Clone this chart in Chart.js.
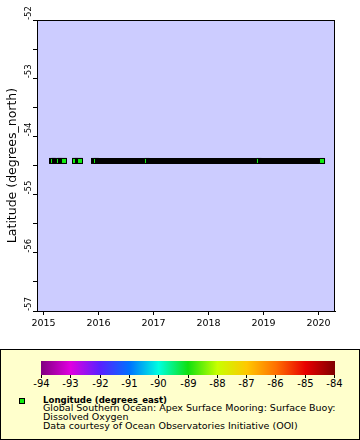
<!DOCTYPE html>
<html>
<head>
<meta charset="utf-8">
<script src="https://cdn.jsdelivr.net/npm/chart.js@4.4.0/dist/chart.umd.min.js"></script>
<style>
  body { margin: 0; background: #fff; font-family: 'DejaVu Sans', sans-serif; color: #000; }
  #wrap { position: relative; width: 360px; height: 440px; overflow: hidden; }
  #plot { position: absolute; left: 0; top: 0; }
  #legend { position: absolute; left: 0; top: 349px; width: 358px; height: 89px; border: 1px solid #000; background: #ffffcc; }
  #colorbar { position: absolute; left: 40px; top: 11px; width: 294px; height: 14px; }
  .cb-tick { position: absolute; top: 25px; width: 1px; height: 3px; background: #000; }
  .cb-label { position: absolute; top: 29px; width: 30px; text-align: center; font-size: 10px; line-height: 10px; }
  #marker { position: absolute; left: 18px; top: 48px; width: 4px; height: 4px; border: 1px solid #000; }
  .txt { position: absolute; left: 42px; white-space: nowrap; font-size: 9.5px; line-height: 10px; }
  .txt.bold { font-weight: bold; font-size: 8.6px; }
</style>
</head>
<body>
<div id="wrap">
  <canvas id="plot" width="360" height="340"></canvas>
  <div id="legend">
    <div id="colorbar"></div>
    <div id="marker"></div>
  </div>
</div>
<script>
// stretches of continuous sampling (decimal years): first and last sample of each
const runStart = [2015.155, 2015.209, 2015.318, 2015.573, 2015.627, 2015.918, 2015.991, 2016.918, 2018.955];
const runEnd   = [2015.173, 2015.282, 2015.373, 2015.573, 2015.664, 2015.955, 2016.882, 2018.918, 2020.064];
const latitude = -54.422;   // degrees_north, mooring position
const longitude = -89.28;   // degrees_east, sets the marker colour

const lonTicks = [-94, -93, -92, -91, -90, -89, -88, -87, -86, -85, -84];
const paletteColors = ['#800080', '#e000e0', '#5a20ff', '#0070ff', '#00ffe0', '#10e010',
                       '#c8ff00', '#ffc800', '#ff7000', '#e80000', '#800000'];
const markerColor = '#10ee10';

const legendLines = [
    'Global Southern Ocean: Apex Surface Mooring: Surface Buoy:',
    'Dissolved Oxygen',
    'Data courtesy of Ocean Observatories Initiative (OOI)'
];

Chart.defaults.font.family = "'DejaVu Sans', sans-serif";
Chart.defaults.color = '#000';

const datasets = runStart.map((start, k) => ({
    data: [{x: start, y: latitude}, {x: runEnd[k], y: latitude}],
    showLine: true,
    borderColor: '#000',
    borderWidth: 6,
    borderCapStyle: 'square',
    tension: 0,
    pointStyle: 'rect',
    pointRadius: ctx => ctx.dataIndex === ctx.dataset.data.length - 1 ? 3.54 : 0,
    pointHoverRadius: 0,
    pointBackgroundColor: markerColor,
    pointBorderColor: '#000',
    pointBorderWidth: 1,
    order: -k   // later stretches drawn on top
}));

const framePlugin = {
    id: 'frame',
    beforeDraw(chart) {
        const {ctx, chartArea: a} = chart;
        ctx.save();
        ctx.fillStyle = '#ccccff';
        ctx.fillRect(a.left, a.top, a.right - a.left, a.bottom - a.top);
        ctx.restore();
    },
    afterDraw(chart) {
        const {ctx, chartArea: a} = chart;
        ctx.save();
        ctx.strokeStyle = '#000';
        ctx.lineWidth = 1;
        ctx.beginPath();
        ctx.moveTo(a.left, a.top + 0.5);
        ctx.lineTo(a.right, a.top + 0.5);
        ctx.moveTo(a.right - 0.5, a.top);
        ctx.lineTo(a.right - 0.5, a.bottom + 1);
        ctx.stroke();
        ctx.restore();
    }
};

new Chart(document.getElementById('plot'), {
    type: 'scatter',
    data: { datasets: datasets },
    plugins: [framePlugin],
    options: {
        responsive: false,
        animation: false,
        events: [],
        layout: { padding: { top: 20, bottom: 9, left: 0, right: 25 } },
        plugins: { legend: { display: false }, tooltip: { enabled: false } },
        scales: {
            x: {
                type: 'linear', position: 'bottom', min: 2014.882, max: 2020.3,
                afterFit: s => { s.height = 20; },
                ticks: {
                    stepSize: 1, includeBounds: false, autoSkip: false, maxRotation: 0,
                    padding: 3, font: { size: 9.5 }, color: '#000',
                    callback: v => String(v)
                },
                grid: { drawOnChartArea: false, tickLength: 4, color: '#000' },
                border: { color: '#000', width: 1 }
            },
            y: {
                type: 'linear', axis: 'y', position: 'left', weight: 0, min: -57, max: -52,
                afterFit: s => { s.width = 8.5; },
                ticks: {
                    stepSize: 0.5, autoSkip: false, minRotation: 90, maxRotation: 90,
                    mirror: true, padding: -8.5, font: { size: 8.5 }, color: '#000',
                    callback: v => Number.isInteger(v) ? String(v) : ''
                },
                grid: { drawOnChartArea: false, tickLength: 4, color: '#000' },
                border: { color: '#000', width: 1 }
            },
            yTitle: {
                type: 'linear', axis: 'y', position: 'left', weight: 1,
                afterFit: s => { s.width = 28.5; },
                ticks: { display: false },
                grid: { display: false },
                border: { display: false },
                title: {
                    display: true, text: 'Latitude (degrees_north)', color: '#000',
                    font: { size: 12.5 }, padding: { top: 5, bottom: 0 }
                }
            }
        }
    }
});

// legend box: colour bar, marker key and dataset description
const legend = document.getElementById('legend');
const bar = document.getElementById('colorbar');
bar.style.background = 'linear-gradient(to right, ' + paletteColors.join(', ') + ')';
const barLeft = 40, barWidth = 294;
lonTicks.forEach((t, i) => {
    const x = Math.round(barLeft + i * (barWidth - 1) / (lonTicks.length - 1));
    const tick = document.createElement('div');
    tick.className = 'cb-tick';
    tick.style.left = x + 'px';
    legend.appendChild(tick);
    const lab = document.createElement('div');
    lab.className = 'cb-label';
    lab.style.left = (x + 0.5 - 15) + 'px';
    lab.textContent = String(t);
    legend.appendChild(lab);
});
document.getElementById('marker').style.background = markerColor;

const title = document.createElement('div');
title.className = 'txt bold';
title.style.top = '45px';
title.textContent = 'Longitude (degrees_east)';
legend.appendChild(title);
[53.4, 62, 71].forEach((top, i) => {
    const line = document.createElement('div');
    line.className = 'txt';
    line.style.top = top + 'px';
    line.textContent = legendLines[i];
    legend.appendChild(line);
});
</script>
</body>
</html>
